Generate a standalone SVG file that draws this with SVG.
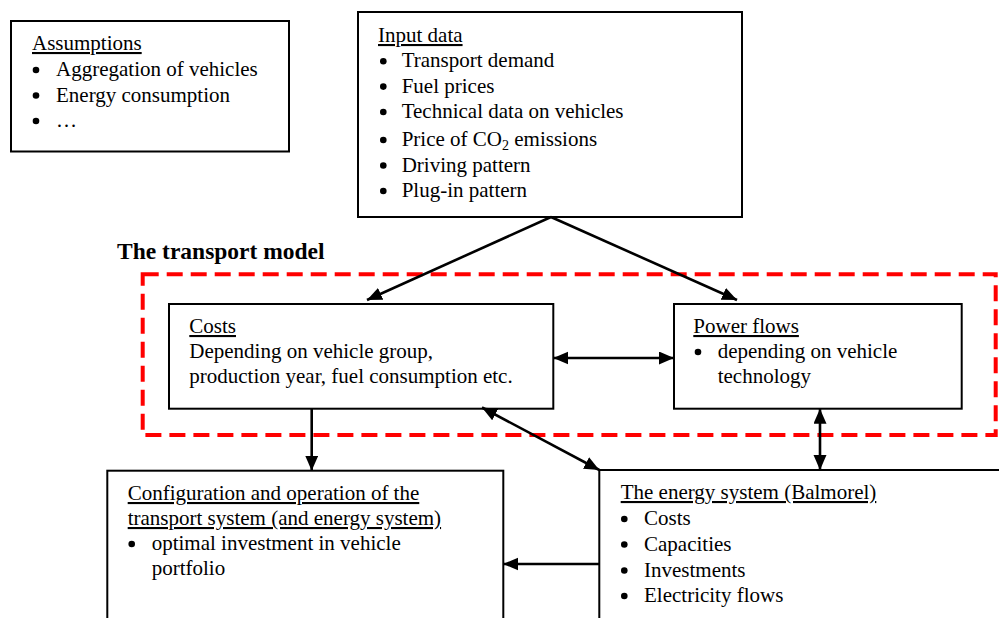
<svg xmlns="http://www.w3.org/2000/svg" width="999" height="618" viewBox="0 0 999 618">
<style>
text { font-family: "Liberation Serif", "Times New Roman", serif; font-size: 21px; fill: #000; }
.u { text-decoration: underline; }
.title { font-weight: bold; font-size: 23.5px; }
.box { fill: #fff; stroke: #000; stroke-width: 2; }
.conn { fill: none; stroke: #000; stroke-width: 2.6; }
.dash { fill: none; stroke: #ff0000; stroke-width: 4; stroke-dasharray: 16 8; }
.dot { fill: #000; }
</style>
<defs>
<marker id="ah" markerUnits="userSpaceOnUse" markerWidth="16" markerHeight="14" refX="15" refY="6.5" orient="auto-start-reverse">
<path d="M0,0 L15,6.5 L0,13 z" fill="#000"/>
</marker>
</defs>
<rect width="999" height="618" fill="#fff"/>

<g id="assumptions">
<rect class="box" x="11" y="21" width="278" height="130.5"/>
<text class="u" x="32" y="50">Assumptions</text>
<circle class="dot" cx="36" cy="70" r="3.3"/>
<text x="56" y="76">Aggregation of vehicles</text>
<circle class="dot" cx="36" cy="95.5" r="3.3"/>
<text x="56" y="101.5">Energy consumption</text>
<circle class="dot" cx="36" cy="121" r="3.3"/>
<text x="56" y="127">…</text>
</g>

<g id="input">
<rect class="box" x="358" y="12" width="384" height="205"/>
<text class="u" x="378" y="42">Input data</text>
<circle class="dot" cx="383.3" cy="61.3" r="3.3"/>
<text x="401.7" y="67.3">Transport demand</text>
<circle class="dot" cx="383.3" cy="86.6" r="3.3"/>
<text x="401.7" y="92.6">Fuel prices</text>
<circle class="dot" cx="383.3" cy="112" r="3.3"/>
<text x="401.7" y="118">Technical data on vehicles</text>
<circle class="dot" cx="383.3" cy="140" r="3.3"/>
<text x="401.7" y="146">Price of CO<tspan font-size="14" dy="4">2</tspan><tspan dy="-4"> emissions</tspan></text>
<circle class="dot" cx="383.3" cy="165.5" r="3.3"/>
<text x="401.7" y="171.5">Driving pattern</text>
<circle class="dot" cx="383.3" cy="191" r="3.3"/>
<text x="401.7" y="197">Plug-in pattern</text>
</g>

<g id="transport-model">
<text class="title" x="117" y="259">The transport model</text>
<rect class="dash" x="142.7" y="274.3" width="853" height="160.7"/>
</g>

<g id="costs">
<rect class="box" x="169" y="304" width="384.3" height="104.7"/>
<text class="u" x="189.3" y="333">Costs</text>
<text x="189.3" y="358">Depending on vehicle group,</text>
<text x="189.3" y="383">production year, fuel consumption etc.</text>
</g>

<g id="power-flows">
<rect class="box" x="674" y="304" width="287.7" height="104.7"/>
<text class="u" x="693.3" y="333">Power flows</text>
<circle class="dot" cx="698" cy="352" r="3.3"/>
<text x="717.7" y="358">depending on vehicle</text>
<text x="717.7" y="383">technology</text>
</g>

<g id="configuration">
<rect class="box" x="107.3" y="470.7" width="396" height="160"/>
<text class="u" x="127.7" y="500">Configuration and operation of the</text>
<text class="u" x="127.7" y="525">transport system (and energy system)</text>
<circle class="dot" cx="131.7" cy="544" r="3.3"/>
<text x="151.7" y="550">optimal investment in vehicle</text>
<text x="151.7" y="575">portfolio</text>
</g>

<g id="energy-system">
<rect class="box" x="599.3" y="470" width="420" height="160"/>
<text class="u" x="620.7" y="499">The energy system (Balmorel)</text>
<circle class="dot" cx="624.3" cy="519" r="3.3"/>
<text x="644" y="525">Costs</text>
<circle class="dot" cx="624.3" cy="544.5" r="3.3"/>
<text x="644" y="550.5">Capacities</text>
<circle class="dot" cx="624.3" cy="570.5" r="3.3"/>
<text x="644" y="576.5">Investments</text>
<circle class="dot" cx="624.3" cy="596" r="3.3"/>
<text x="644" y="602">Electricity flows</text>
</g>

<g id="connectors">
<path class="conn" d="M551,217 L367,300" marker-end="url(#ah)"/>
<path class="conn" d="M551,217 L737,300" marker-end="url(#ah)"/>
<path class="conn" d="M553.3,358 L674,358" marker-start="url(#ah)" marker-end="url(#ah)"/>
<path class="conn" d="M311.7,408 L311.7,470.7" marker-end="url(#ah)"/>
<path class="conn" d="M482,407.5 L599.3,470" marker-start="url(#ah)" marker-end="url(#ah)"/>
<path class="conn" d="M820,408.7 L820,470" marker-start="url(#ah)" marker-end="url(#ah)"/>
<path class="conn" d="M599.3,564 L503.3,564" marker-end="url(#ah)"/>
</g>
</svg>
